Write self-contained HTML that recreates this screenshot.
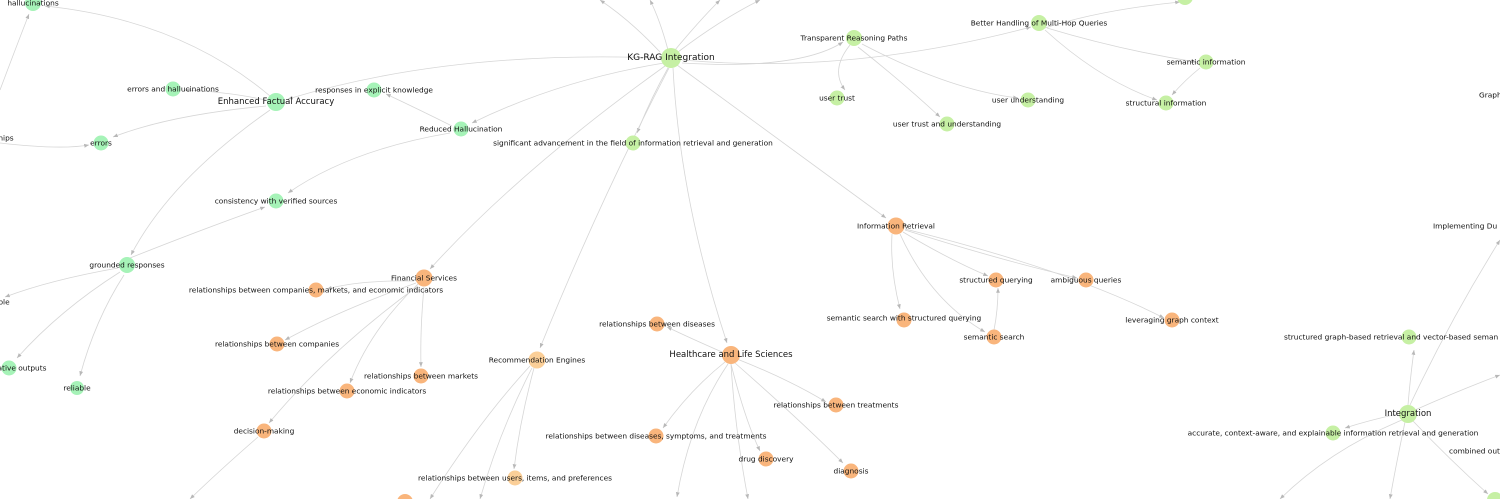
<!DOCTYPE html>
<html><head><meta charset="utf-8"><style>
html,body{margin:0;padding:0;background:#fff;width:1500px;height:499px;overflow:hidden;}
svg{display:block;}
text{font-family:"DejaVu Sans","Liberation Sans",sans-serif;font-size:7.4px;fill:#111;text-anchor:middle;dominant-baseline:central;}
.b{font-size:9px;}
.e{fill:none;stroke:#d6d6d6;stroke-width:0.8;}
.m{fill:#a6f3b8;}.l{fill:#c6f0a4;}.o{fill:#f9b57c;}.y{fill:#fbcf98;}
</style></head><body>
<svg width="1500" height="499" viewBox="0 0 1500 499" xmlns="http://www.w3.org/2000/svg">
<defs><marker id="a" viewBox="0 0 10 10" refX="10" refY="5" markerWidth="6" markerHeight="6" orient="auto-start-reverse"><path d="M0,1 L10,5 L0,9 z" fill="#b8b8b8"/></marker></defs>
<g class="e" marker-end="url(#a)">
<path d="M0 90 Q15 50 29 14"/>
<path d="M270 96 Q180 20 45 6"/>
<path d="M0 143 Q60 150 89 145"/>
<path d="M265 100 Q230 92 185 90"/>
<path d="M266 106 Q170 115 113 137"/>
<path d="M270 110 Q170 180 131 255"/>
<path d="M660 58 Q450 50 288 99"/>
<path d="M452 126 Q420 110 386 94"/>
<path d="M450 133 Q350 150 288 193"/>
<path d="M120 262 Q200 230 265 207"/>
<path d="M118 268 Q50 280 5 297"/>
<path d="M120 272 Q60 310 17 358"/>
<path d="M124 275 Q95 320 80 376"/>
<path d="M664 63 Q560 80 472 123"/>
<path d="M668 68 Q650 100 637 133"/>
<path d="M665 66 Q520 170 430 269"/>
<path d="M669 68 Q600 200 540 348"/>
<path d="M673 68 Q680 200 727 343"/>
<path d="M677 65 Q780 140 886 218"/>
<path d="M682 63 Q800 70 843 42"/>
<path d="M682 60 Q850 75 1031 27"/>
<path d="M660 52 Q630 20 600 0"/>
<path d="M668 50 Q660 20 650 0"/>
<path d="M675 50 Q700 20 720 0"/>
<path d="M678 52 Q720 20 760 0"/>
<path d="M850 45 Q830 70 845 90"/>
<path d="M858 47 Q900 80 940 117"/>
<path d="M862 44 Q950 90 1018 98"/>
<path d="M1045 28 Q1100 10 1180 2"/>
<path d="M1047 28 Q1120 50 1196 62"/>
<path d="M1045 30 Q1100 80 1157 100"/>
<path d="M1200 68 Q1185 80 1172 95"/>
<path d="M892 234 Q890 270 900 309"/>
<path d="M900 234 Q930 300 985 332"/>
<path d="M903 232 Q950 260 988 276"/>
<path d="M905 230 Q1000 260 1077 278"/>
<path d="M905 229 Q1070 270 1164 318"/>
<path d="M994 330 Q998 310 998 288"/>
<path d="M414 281 Q360 280 327 289"/>
<path d="M416 283 Q340 310 285 340"/>
<path d="M418 284 Q370 330 350 383"/>
<path d="M418 286 Q330 350 269 423"/>
<path d="M424 287 Q420 330 421 367"/>
<path d="M258 437 Q220 470 190 499"/>
<path d="M534 368 Q520 420 514 469"/>
<path d="M530 366 Q480 420 430 499"/>
<path d="M532 368 Q500 430 480 499"/>
<path d="M722 352 Q690 338 667 327"/>
<path d="M737 359 Q790 380 826 402"/>
<path d="M725 362 Q690 390 663 428"/>
<path d="M731 364 Q745 420 760 451"/>
<path d="M735 363 Q800 420 843 463"/>
<path d="M728 364 Q690 420 677 497"/>
<path d="M731 364 Q735 430 748 499"/>
<path d="M1408 405 Q1410 380 1414 350"/>
<path d="M1398 414 Q1370 420 1345 428"/>
<path d="M1410 405 Q1450 320 1500 240"/>
<path d="M1415 410 Q1460 390 1500 375"/>
<path d="M1402 420 Q1330 450 1280 499"/>
<path d="M1405 422 Q1395 470 1390 499"/>
<path d="M1413 421 Q1450 460 1488 494"/>
</g>
<g>
<circle class="m" cx="33" cy="3" r="8"/><circle class="m" cx="173" cy="89" r="7.5"/>
<circle class="m" cx="276" cy="102" r="9"/><circle class="m" cx="374" cy="90" r="7.5"/>
<circle class="m" cx="461" cy="129" r="7.5"/><circle class="m" cx="101" cy="143" r="7.5"/>
<circle class="m" cx="276" cy="201" r="7.5"/><circle class="m" cx="127" cy="265" r="8"/>
<circle class="m" cx="9" cy="368" r="7.5"/><circle class="m" cx="77" cy="388" r="7"/>
<circle class="l" cx="671" cy="58" r="10"/><circle class="l" cx="633" cy="143" r="7.5"/>
<circle class="l" cx="854" cy="38" r="8"/><circle class="l" cx="1039" cy="23" r="8"/>
<circle class="l" cx="1185" cy="-3" r="8"/><circle class="l" cx="837" cy="98" r="7.5"/>
<circle class="l" cx="1028" cy="100" r="7.5"/><circle class="l" cx="947" cy="124" r="7.5"/>
<circle class="l" cx="1206" cy="62" r="7.5"/><circle class="l" cx="1166" cy="103" r="7.5"/>
<circle class="o" cx="896" cy="226" r="8.5"/><circle class="o" cx="996" cy="280" r="7.5"/>
<circle class="o" cx="1086" cy="280" r="7.5"/><circle class="o" cx="904" cy="320" r="7.5"/>
<circle class="o" cx="994" cy="337" r="7.5"/><circle class="o" cx="1172" cy="320" r="7.5"/>
<circle class="o" cx="424" cy="278" r="8.5"/><circle class="o" cx="316" cy="290" r="7.5"/>
<circle class="o" cx="277" cy="344" r="7.5"/><circle class="o" cx="421" cy="376" r="7.5"/>
<circle class="o" cx="347" cy="391" r="7.5"/><circle class="o" cx="264" cy="431" r="7.5"/>
<circle class="y" cx="537" cy="360" r="8.5"/><circle class="y" cx="515" cy="478" r="7.5"/>
<circle class="o" cx="657" cy="324" r="7.5"/><circle class="o" cx="731" cy="355" r="9"/>
<circle class="o" cx="836" cy="405" r="7.5"/><circle class="o" cx="656" cy="436" r="7.5"/>
<circle class="o" cx="766" cy="459" r="7.5"/><circle class="o" cx="851" cy="471" r="7.5"/>
<circle class="o" cx="674" cy="535" r="8"/><circle class="o" cx="405" cy="502" r="8"/>
<circle class="l" cx="1408" cy="414" r="9"/><circle class="l" cx="1409" cy="337" r="7.5"/>
<circle class="l" cx="1333" cy="433" r="7.5"/><circle class="l" cx="1495" cy="500" r="8"/>
</g>
<g>
<text x="33" y="3">hallucinations</text>
<text x="173" y="89">errors and hallucinations</text>
<text x="276" y="102" class="b" style="font-size:8.5px">Enhanced Factual Accuracy</text>
<text x="374" y="90">responses in explicit knowledge</text>
<text x="461" y="129">Reduced Hallucination</text>
<text x="101" y="143">errors</text>
<text x="6" y="138">nips</text>
<text x="276" y="201">consistency with verified sources</text>
<text x="127" y="265">grounded responses</text>
<text x="4" y="302">ble</text>
<text x="22" y="368">ative outputs</text>
<text x="77" y="388">reliable</text>
<text x="671" y="58" class="b">KG-RAG Integration</text>
<text x="633" y="143">significant advancement in the field of information retrieval and generation</text>
<text x="1185" y="-4">multiple relationships in the graph</text>
<text x="854" y="38">Transparent Reasoning Paths</text>
<text x="1039" y="23">Better Handling of Multi-Hop Queries</text>
<text x="837" y="98">user trust</text>
<text x="1028" y="100">user understanding</text>
<text x="947" y="124">user trust and understanding</text>
<text x="1206" y="62">semantic information</text>
<text x="1166" y="103">structural information</text>
<text x="1479" y="95" style="text-anchor:start">Graph</text>
<text x="896" y="226">Information Retrieval</text>
<text x="996" y="280">structured querying</text>
<text x="1086" y="280">ambiguous queries</text>
<text x="904" y="318">semantic search with structured querying</text>
<text x="994" y="337">semantic search</text>
<text x="1172" y="320">leveraging graph context</text>
<text x="424" y="278">Financial Services</text>
<text x="316" y="290">relationships between companies, markets, and economic indicators</text>
<text x="277" y="344">relationships between companies</text>
<text x="421" y="376">relationships between markets</text>
<text x="347" y="391">relationships between economic indicators</text>
<text x="264" y="431">decision-making</text>
<text x="537" y="360">Recommendation Engines</text>
<text x="515" y="478">relationships between users, items, and preferences</text>
<text x="657" y="324">relationships between diseases</text>
<text x="731" y="355" class="b" style="font-size:8.5px">Healthcare and Life Sciences</text>
<text x="836" y="405">relationships between treatments</text>
<text x="656" y="436">relationships between diseases, symptoms, and treatments</text>
<text x="766" y="459">drug discovery</text>
<text x="851" y="471">diagnosis</text>
<text x="674" y="535">diagnosis and drug discovery</text>
<text x="1433" y="226" style="text-anchor:start">Implementing Du</text>
<text x="1408" y="414" class="b" style="font-size:8.5px">Integration</text>
<text x="1284" y="337" style="text-anchor:start">structured graph-based retrieval and vector-based seman</text>
<text x="1333" y="433">accurate, context-aware, and explainable information retrieval and generation</text>
<text x="1449" y="451" style="text-anchor:start">combined out</text>
</g>
</svg>
</body></html>
